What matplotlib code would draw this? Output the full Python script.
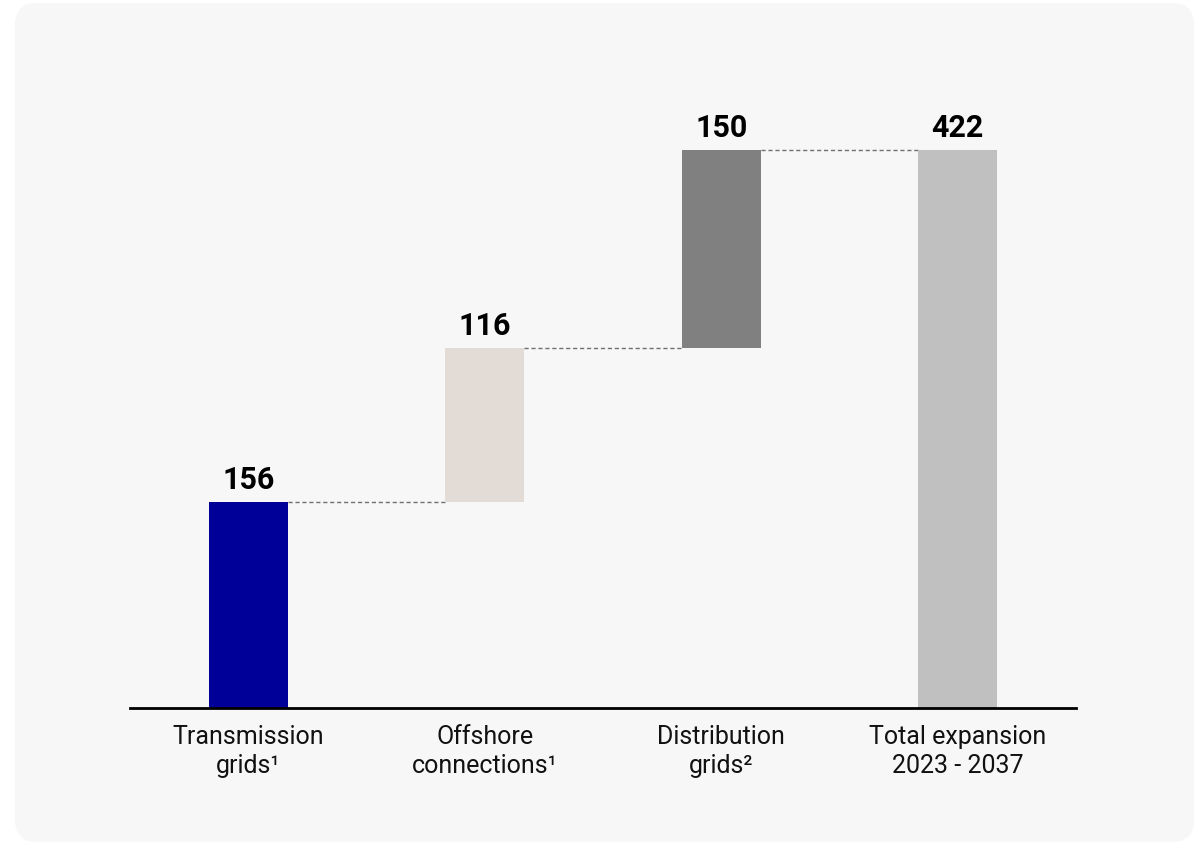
import matplotlib
matplotlib.use("Agg")
import matplotlib.pyplot as plt
from matplotlib.patches import FancyBboxPatch
from matplotlib.transforms import IdentityTransform

categories = ["Transmission\ngrids\u00b9", "Offshore\nconnections\u00b9",
              "Distribution\ngrids\u00b2", "Total expansion\n2023 - 2037"]
values = [156, 116, 150, 422]
is_total = [False, False, False, True]
colors = ["#000099", "#e3dbd6", "#808080", "#c0c0c0"]

plt.rcParams['font.family'] = ['Roboto', 'DejaVu Sans']

W, H = 1203, 843
fig = plt.figure(figsize=(W / 100, H / 100), dpi=100)
fig.patch.set_facecolor("white")

panel = FancyBboxPatch((15, 1), 1179, 839, boxstyle="round,pad=0,rounding_size=22",
                       transform=IdentityTransform(), facecolor="#f7f7f7",
                       edgecolor="none", zorder=-10)
fig.patches.append(panel)

ax = fig.add_axes([130 / W, (H - 708) / H, (1076 - 130) / W, 648 / H])
ax.set_facecolor("none")
ax.set_zorder(1)

width = 0.333
bottoms = []
running = 0
for v, tot in zip(values, is_total):
    if tot:
        bottoms.append(0)
    else:
        bottoms.append(running)
        running += v

x = list(range(len(values)))
ax.bar(x, values, width=width, bottom=bottoms, color=colors, zorder=2)

tops = [b + v for b, v in zip(bottoms, values)]
for i in range(len(values) - 1):
    level = tops[i]
    ax.plot([x[i] + width / 2, x[i + 1] - width / 2], [level, level],
            color="#707070", linewidth=1.0, linestyle=(0, (3, 2)), zorder=1)

for xi, t, v in zip(x, tops, values):
    ax.annotate(str(v), (xi, t), xytext=(0, 5), textcoords="offset points",
                ha="center", va="bottom", fontsize=22, fontweight="bold", color="black")

ax.set_xlim(-0.5, 3.5)
ax.set_ylim(0, 490)
ax.set_xticks(x)
ax.set_xticklabels(categories, fontsize=18, linespacing=1.3)
ax.tick_params(axis="x", length=0, pad=12, colors="#111111")
ax.set_yticks([])
for s in ["top", "right", "left"]:
    ax.spines[s].set_visible(False)
ax.spines["bottom"].set_linewidth(2)
ax.spines["bottom"].set_color("black")

fig.savefig("out.png", dpi=100)
